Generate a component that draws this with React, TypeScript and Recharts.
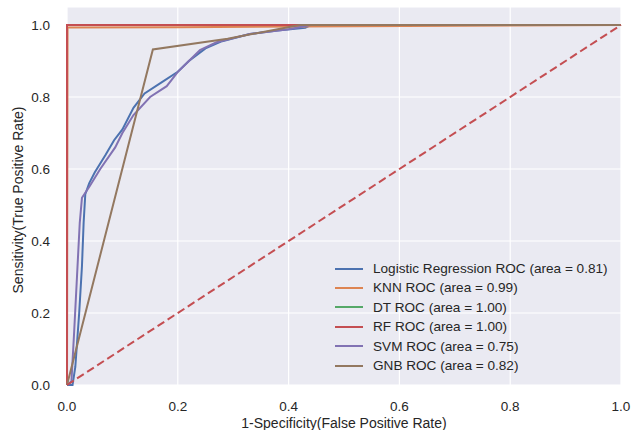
import { CartesianGrid, Label, Line, LineChart, XAxis, YAxis } from "recharts";

type Pt = { x: number; y: number };

const logisticRoc: Pt[] = [
  { x: 0, y: 0 }, { x: 0.01, y: 0 }, { x: 0.015, y: 0.05 }, { x: 0.022, y: 0.2 },
  { x: 0.027, y: 0.33 }, { x: 0.03, y: 0.45 }, { x: 0.033, y: 0.53 }, { x: 0.04, y: 0.56 },
  { x: 0.05, y: 0.59 }, { x: 0.07, y: 0.64 }, { x: 0.085, y: 0.68 }, { x: 0.1, y: 0.71 },
  { x: 0.12, y: 0.77 }, { x: 0.14, y: 0.81 }, { x: 0.17, y: 0.84 }, { x: 0.2, y: 0.87 },
  { x: 0.22, y: 0.9 }, { x: 0.25, y: 0.935 }, { x: 0.28, y: 0.955 }, { x: 0.33, y: 0.975 },
  { x: 0.38, y: 0.985 }, { x: 0.43, y: 0.992 }, { x: 0.44, y: 1 }, { x: 1, y: 1 },
];
const knnRoc: Pt[] = [
  { x: 0, y: 0 }, { x: 0.001, y: 0.993 }, { x: 0.2, y: 0.994 }, { x: 0.42, y: 0.996 }, { x: 1, y: 1 },
];
const dtRoc: Pt[] = [{ x: 0, y: 0 }, { x: 0, y: 1 }, { x: 1, y: 1 }];
const rfRoc: Pt[] = [{ x: 0, y: 0 }, { x: 0, y: 1 }, { x: 1, y: 1 }];
const svmRoc: Pt[] = [
  { x: 0, y: 0 }, { x: 0.008, y: 0.01 }, { x: 0.013, y: 0.15 }, { x: 0.018, y: 0.3 },
  { x: 0.023, y: 0.45 }, { x: 0.027, y: 0.52 }, { x: 0.04, y: 0.55 }, { x: 0.06, y: 0.6 },
  { x: 0.087, y: 0.66 }, { x: 0.1, y: 0.7 }, { x: 0.12, y: 0.75 }, { x: 0.15, y: 0.8 },
  { x: 0.18, y: 0.83 }, { x: 0.2, y: 0.87 }, { x: 0.22, y: 0.9 }, { x: 0.24, y: 0.93 },
  { x: 0.27, y: 0.952 }, { x: 0.33, y: 0.975 }, { x: 0.4, y: 0.988 }, { x: 0.44, y: 1 }, { x: 1, y: 1 },
];
const gnbRoc: Pt[] = [
  { x: 0, y: 0 }, { x: 0.155, y: 0.932 }, { x: 0.29, y: 0.962 }, { x: 0.42, y: 1 }, { x: 1, y: 1 },
];
const chance: Pt[] = [{ x: 0, y: 0 }, { x: 1, y: 1 }];

const ticks = [0, 0.2, 0.4, 0.6, 0.8, 1.0];

const series = [
  { name: "Logistic Regression ROC (area = 0.81)", data: logisticRoc, color: "#4c72b0" },
  { name: "KNN ROC (area = 0.99)", data: knnRoc, color: "#dd8452" },
  { name: "DT ROC (area = 1.00)", data: dtRoc, color: "#55a868" },
  { name: "RF ROC (area = 1.00)", data: rfRoc, color: "#c44e52" },
  { name: "SVM ROC (area = 0.75)", data: svmRoc, color: "#8172b3" },
  { name: "GNB ROC (area = 0.82)", data: gnbRoc, color: "#937860" },
];

const FONT = "'Liberation Sans', Arial, sans-serif";
const TEXT = "#262626";

function RocLegend() {
  return (
    <div
      style={{
        position: "absolute",
        left: 335,
        top: 259,
        fontFamily: FONT,
        fontSize: 13.6,
        color: TEXT,
        lineHeight: "19.4px",
        whiteSpace: "nowrap",
      }}
    >
      {series.map((s) => (
        <div key={s.name} style={{ display: "flex", alignItems: "center", height: 19.4 }}>
          <div style={{ width: 28, height: 2, background: s.color, marginRight: 10 }} />
          <span>{s.name}</span>
        </div>
      ))}
    </div>
  );
}

export default function App() {
  return (
    <div style={{ position: "absolute", left: 0, top: 0, width: 631, height: 430 }}>
      <LineChart width={631} height={430} margin={{ top: 7, right: 10, left: 0, bottom: 0 }}>
        <CartesianGrid fill="#eaeaf2" stroke="#ffffff" strokeWidth={1.2} />
        <XAxis
          type="number"
          dataKey="x"
          domain={[0, 1]}
          ticks={ticks}
          tickFormatter={(v: number) => v.toFixed(1)}
          axisLine={false}
          tickLine={false}
          tickSize={0}
          tickMargin={16}
          height={45}
          tick={{ fill: TEXT, fontSize: 13.5, fontFamily: FONT }}
        >
          <Label
            content={() => (
              <text x={344} y={428} textAnchor="middle" fill={TEXT} fontSize={14} fontFamily={FONT}>
                1-Specificity(False Positive Rate)
              </text>
            )}
          />
        </XAxis>
        <YAxis
          type="number"
          dataKey="y"
          domain={[0, 1.05]}
          ticks={ticks}
          tickFormatter={(v: number) => v.toFixed(1)}
          axisLine={false}
          tickLine={false}
          tickSize={0}
          tickMargin={17}
          width={67}
          tick={{ fill: TEXT, fontSize: 13.5, fontFamily: FONT }}
        >
          <Label
            content={() => (
              <text
                x={23}
                y={200}
                transform="rotate(-90 23 200)"
                textAnchor="middle"
                fill={TEXT}
                fontSize={14}
                fontFamily={FONT}
              >
                Sensitivity(True Positive Rate)
              </text>
            )}
          />
        </YAxis>
        {series.map((s) => (
          <Line
            key={s.name}
            data={s.data}
            dataKey="y"
            name={s.name}
            type="linear"
            stroke={s.color}
            strokeWidth={2}
            dot={false}
            activeDot={false}
            isAnimationActive={false}
          />
        ))}
        <Line
          data={chance}
          dataKey="y"
          type="linear"
          stroke="#c44e52"
          strokeWidth={2}
          strokeDasharray="8 4"
          dot={false}
          activeDot={false}
          legendType="none"
          isAnimationActive={false}
        />
      </LineChart>
      <RocLegend />
    </div>
  );
}
